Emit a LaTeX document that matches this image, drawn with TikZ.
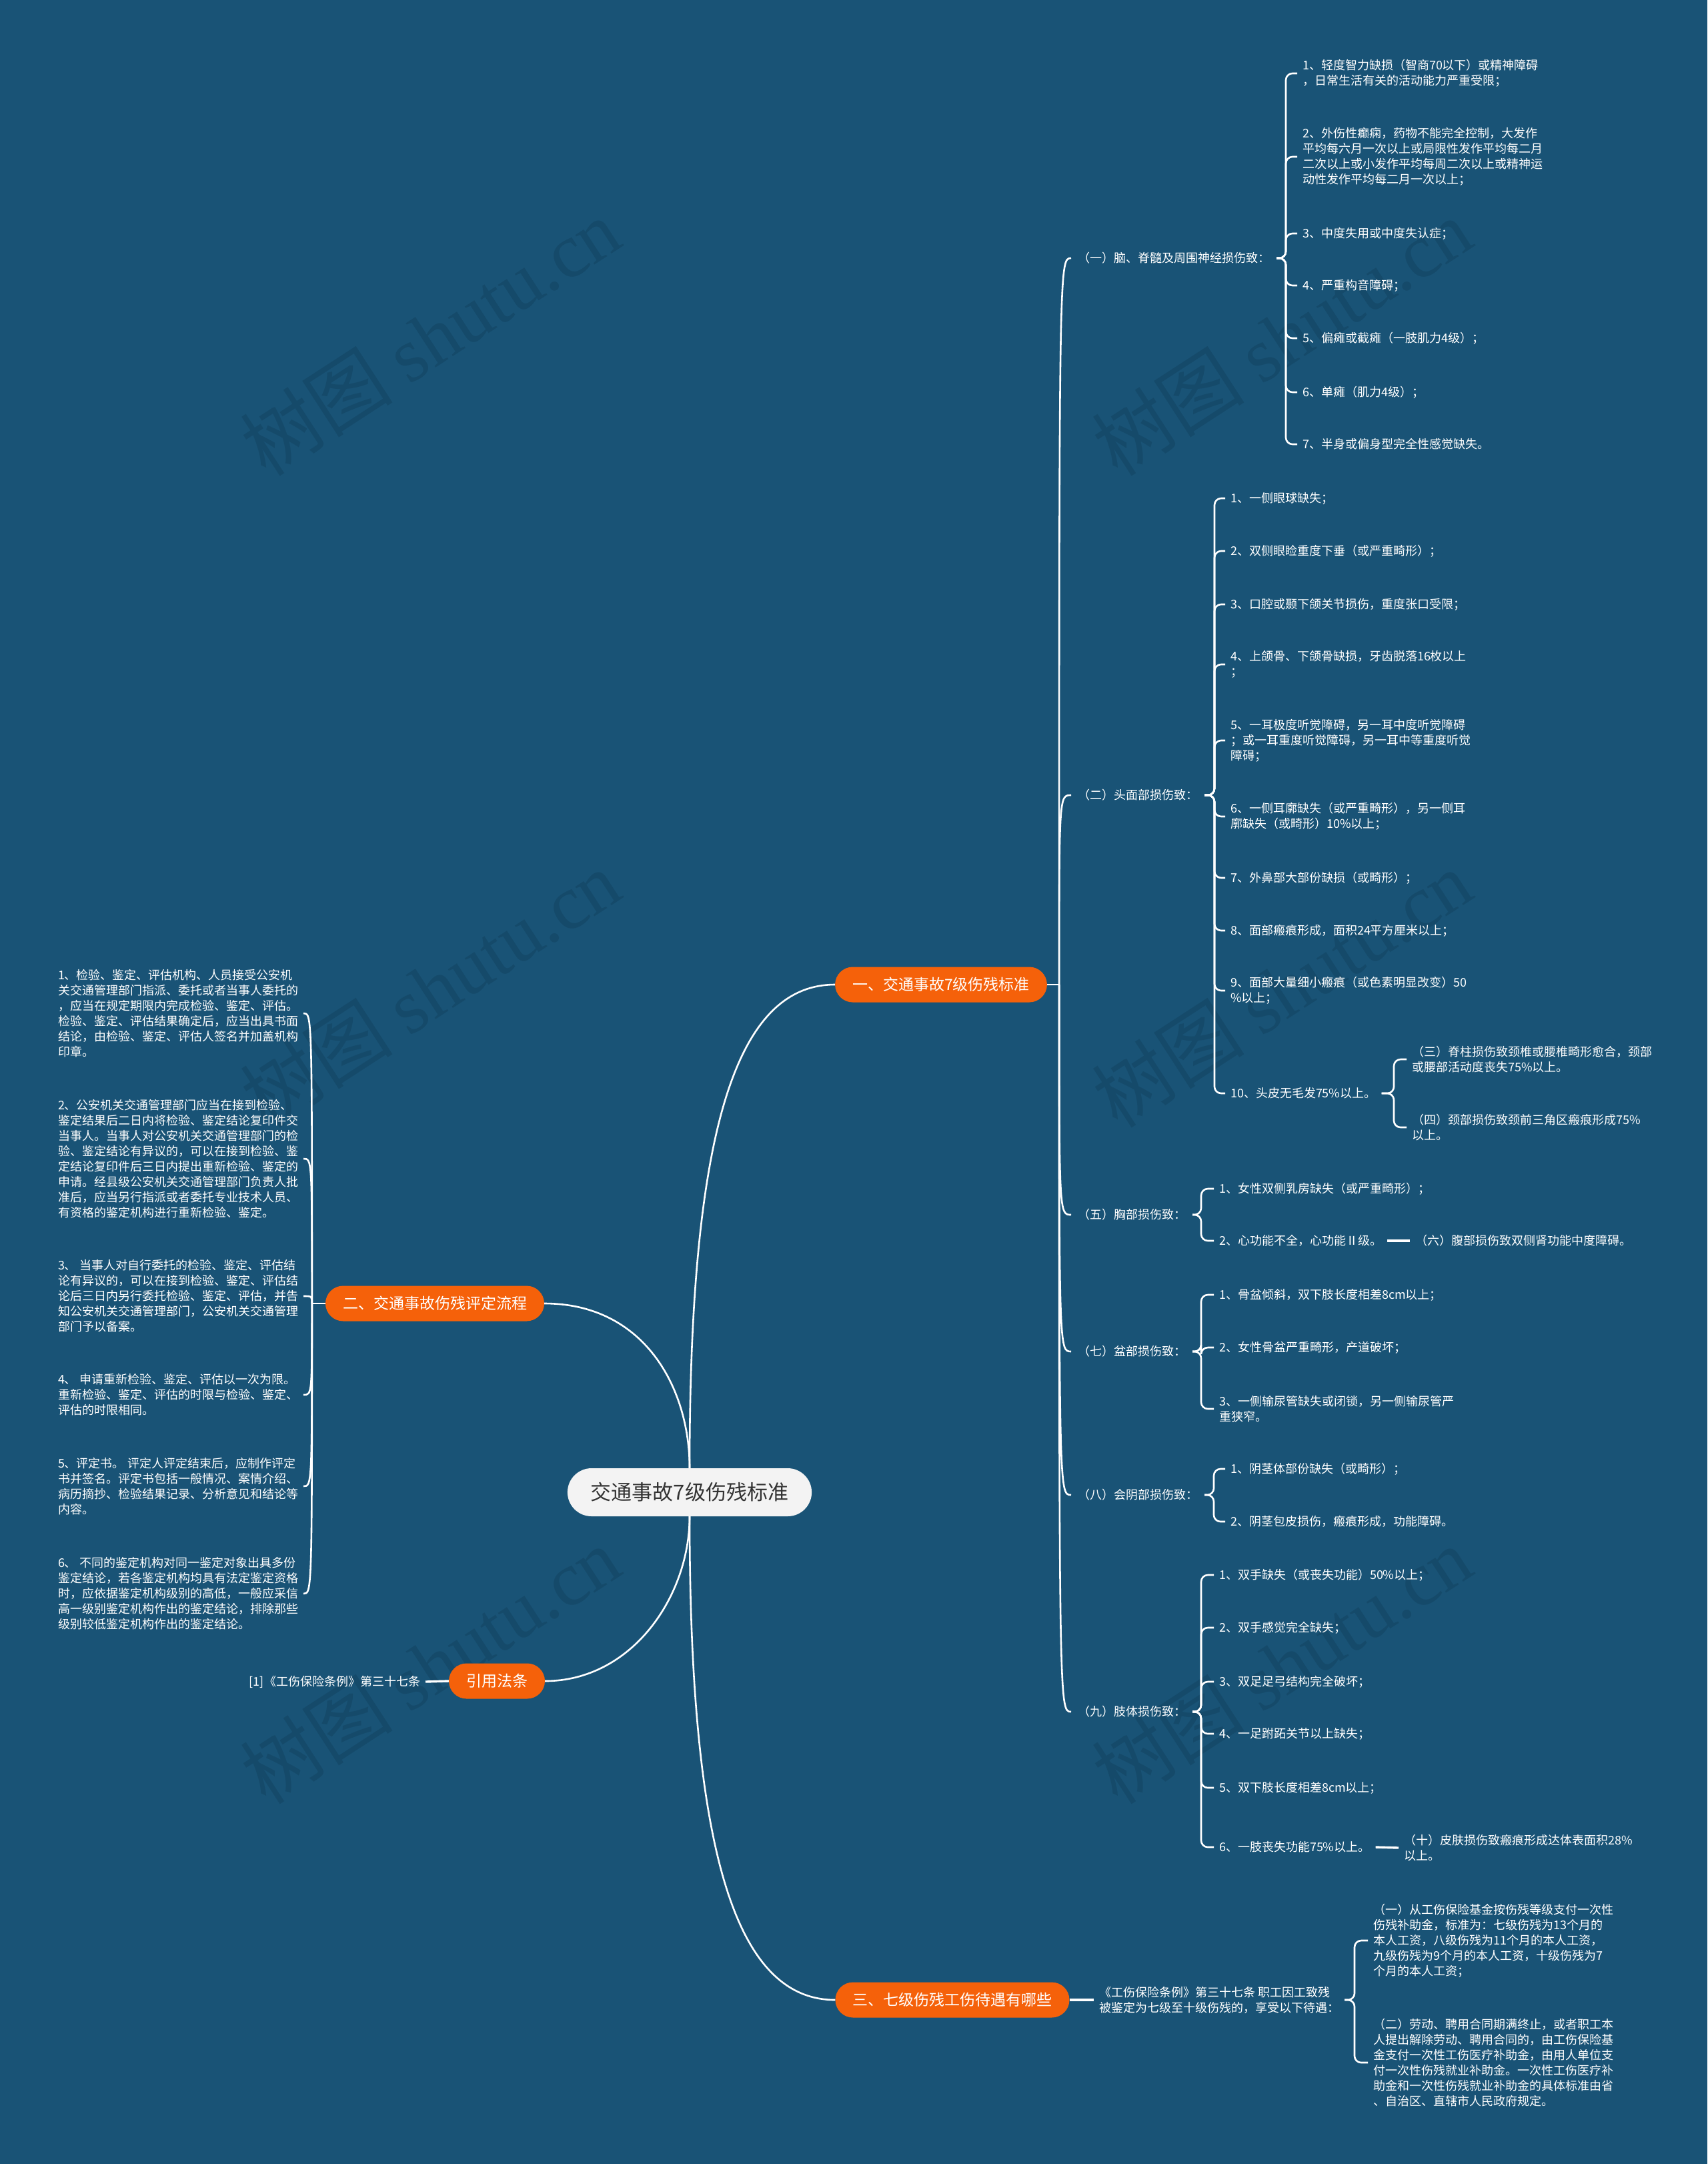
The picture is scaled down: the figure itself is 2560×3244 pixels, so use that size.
\documentclass[tikz,border=0pt]{standalone}
\usepackage{fontspec}
\setmainfont{Noto Sans CJK SC}
\newfontfamily\wmlatin{Liberation Serif}
\definecolor{bgc}{RGB}{25,83,118}
\definecolor{orc}{RGB}{245,97,10}
\definecolor{rootc}{RGB}{243,243,243}
\definecolor{roott}{RGB}{51,51,51}
\definecolor{wmc}{RGB}{21,74,106}
\newcommand\mybrace[3]{\draw[brc] (#1.east) -- (#1.east -| #2) |- (#3.west);}
\newcommand\mycurve[2]{\draw[conn] (#1) .. controls (#1 |- #2) and (#1 |- #2) .. (#2);}
\begin{document}
\begin{tikzpicture}[x=1pt,y=-1pt,
  leaf/.style={text=white,font=\fontsize{18}{23}\selectfont,align=left,inner xsep=0pt,inner ysep=1pt,outer xsep=8pt,anchor=west},
  lbl/.style={leaf,outer xsep=10pt},
  branch/.style={fill=orc,text=white,rounded corners=26.5pt,minimum height=53pt,inner xsep=26pt,inner ysep=0pt,font=\fontsize{23}{28}\selectfont},
  rootn/.style={fill=rootc,text=roott,rounded corners=36pt,minimum height=72pt,inner xsep=35pt,inner ysep=0pt,font=\fontsize{31}{36}\selectfont},
  conn/.style={draw=white,line width=2.6pt},
  brc/.style={conn,rounded corners=10pt},
  wm/.style={text=wmc,font=\fontsize{115}{115}\selectfont,rotate=33,inner sep=0pt}]
\useasboundingbox (0,0) rectangle (2560,3244);
\fill[bgc] (0,0) rectangle (2560,3244);
% watermarks
\node[wm] (w1) at (645,505) {树图 {\wmlatin shutu.cn}};
\node[wm] (w2) at (645,1482) {树图 {\wmlatin shutu.cn}};
\node[wm] (w3) at (645,2496) {树图 {\wmlatin shutu.cn}};
\node[wm] (w4) at (1922,505) {树图 {\wmlatin shutu.cn}};
\node[wm] (w5) at (1922,1482) {树图 {\wmlatin shutu.cn}};
\node[wm] (w6) at (1922,2496) {树图 {\wmlatin shutu.cn}};

% root and main branches
\node[rootn] (root) at (1034,2237) {交通事故7级伤残标准};
\node[branch] (b1) at (1411,1476) {一、交通事故7级伤残标准};
\node[branch] (b2) at (652,1954) {二、交通事故伤残评定流程};
\node[branch] (b3) at (745,2520) {引用法条};
\node[branch] (b4) at (1428,2998) {三、七级伤残工伤待遇有哪些};

\draw[conn] (root.north) .. controls +(0,-500) and +(-150,0) .. (b1.west);
\draw[conn] (b2.east) .. controls +(150,0) and +(0,-120) .. (root.north);
\draw[conn] (b3.east) .. controls +(130,0) and +(0,120) .. (root.south);
\draw[conn] (root.south) .. controls +(0,500) and +(-150,0) .. (b4.west);

% ---------- branch 1 ----------
\node[lbl] (s1) at (1606,387) {（一）脑、脊髓及周围神经损伤致：};
\node[lbl] (s2) at (1606,1192) {（二）头面部损伤致：};
\node[lbl] (s5) at (1606,1821) {（五）胸部损伤致：};
\node[lbl] (s7) at (1606,2026) {（七）盆部损伤致：};
\node[lbl] (s8) at (1606,2241) {（八）会阴部损伤致：};
\node[lbl] (s9) at (1606,2566) {（九）肢体损伤致：};
\draw[conn] (b1.east) -- ++(18,0) coordinate (j1);
\mycurve{j1}{s1.west}
\mycurve{j1}{s2.west}
\mycurve{j1}{s5.west}
\mycurve{j1}{s7.west}
\mycurve{j1}{s8.west}
\mycurve{j1}{s9.west}

% (一)
\node[leaf] (a1) at (1945,110) {1、轻度智力缺损（智商70以下）或精神障碍\\，日常生活有关的活动能力严重受限；};
\node[leaf] (a2) at (1945,235) {2、外伤性癫痫，药物不能完全控制，大发作\\平均每六月一次以上或局限性发作平均每二月\\二次以上或小发作平均每周二次以上或精神运\\动性发作平均每二月一次以上；};
\node[leaf] (a3) at (1945,350) {3、中度失用或中度失认症；};
\node[leaf] (a4) at (1945,428) {4、严重构音障碍；};
\node[leaf] (a5) at (1945,507) {5、偏瘫或截瘫（一肢肌力4级）；};
\node[leaf] (a6) at (1945,588) {6、单瘫（肌力4级）；};
\node[leaf] (a7) at (1945,666) {7、半身或偏身型完全性感觉缺失。};
\coordinate (x1) at (1928,0);
\foreach \c in {a1,a2,a3,a4,a5,a6,a7} {\mybrace{s1}{x1}{\c}}

% (二)
\node[leaf] (c1) at (1837,747) {1、一侧眼球缺失；};
\node[leaf] (c2) at (1837,826) {2、双侧眼睑重度下垂（或严重畸形）；};
\node[leaf] (c3) at (1837,906) {3、口腔或颞下颌关节损伤，重度张口受限；};
\node[leaf] (c4) at (1837,996) {4、上颌骨、下颌骨缺损，牙齿脱落16枚以上\\；};
\node[leaf] (c5) at (1837,1110) {5、一耳极度听觉障碍，另一耳中度听觉障碍\\；或一耳重度听觉障碍，另一耳中等重度听觉\\障碍；};
\node[leaf] (c6) at (1837,1224) {6、一侧耳廓缺失（或严重畸形），另一侧耳\\廓缺失（或畸形）10\%以上；};
\node[leaf] (c7) at (1837,1316) {7、外鼻部大部份缺损（或畸形）；};
\node[leaf] (c8) at (1837,1395) {8、面部瘢痕形成，面积24平方厘米以上；};
\node[leaf] (c9) at (1837,1485) {9、面部大量细小瘢痕（或色素明显改变）50\\\%以上；};
\node[leaf] (c10) at (1837,1639) {10、头皮无毛发75\%以上。};
\coordinate (x2) at (1821,0);
\foreach \c in {c1,c2,c3,c4,c5,c6,c7,c8,c9,c10} {\mybrace{s2}{x2}{\c}}
\node[leaf] (d1) at (2109,1588) {（三）脊柱损伤致颈椎或腰椎畸形愈合，颈部\\或腰部活动度丧失75\%以上。};
\node[leaf] (d2) at (2109,1690) {（四）颈部损伤致颈前三角区瘢痕形成75\%\\以上。};
\coordinate (x3) at (2090,0);
\mybrace{c10}{x3}{d1}
\mybrace{c10}{x3}{d2}

% (五)
\node[leaf] (e1) at (1820,1782) {1、女性双侧乳房缺失（或严重畸形）；};
\node[leaf] (e2) at (1820,1860) {2、心功能不全，心功能Ⅱ级。};
\coordinate (x5) at (1801,0);
\mybrace{s5}{x5}{e1}
\mybrace{s5}{x5}{e2}
\node[leaf] (f1) at (2114,1860) {（六）腹部损伤致双侧肾功能中度障碍。};
\draw[conn,line width=3.4pt] (e2.east) -- (f1.west);

% (七)
\node[leaf] (g1) at (1820,1941) {1、骨盆倾斜，双下肢长度相差8cm以上；};
\node[leaf] (g2) at (1820,2020) {2、女性骨盆严重畸形，产道破坏；};
\node[leaf] (g3) at (1820,2112) {3、一侧输尿管缺失或闭锁，另一侧输尿管严\\重狭窄。};
\coordinate (x7) at (1801,0);
\foreach \c in {g1,g2,g3} {\mybrace{s7}{x7}{\c}}

% (八)
\node[leaf] (h1) at (1837,2202) {1、阴茎体部份缺失（或畸形）；};
\node[leaf] (h2) at (1837,2281) {2、阴茎包皮损伤，瘢痕形成，功能障碍。};
\coordinate (x8) at (1820,0);
\mybrace{s8}{x8}{h1}
\mybrace{s8}{x8}{h2}

% (九)
\node[leaf] (i1) at (1820,2361) {1、双手缺失（或丧失功能）50\%以上；};
\node[leaf] (i2) at (1820,2440) {2、双手感觉完全缺失；};
\node[leaf] (i3) at (1820,2521) {3、双足足弓结构完全破坏；};
\node[leaf] (i4) at (1820,2599) {4、一足跗跖关节以上缺失；};
\node[leaf] (i5) at (1820,2680) {5、双下肢长度相差8cm以上；};
\node[leaf] (i6) at (1820,2769) {6、一肢丧失功能75\%以上。};
\coordinate (x9) at (1801,0);
\foreach \c in {i1,i2,i3,i4,i5,i6} {\mybrace{s9}{x9}{\c}}
\node[leaf] (k1) at (2097,2770) {（十）皮肤损伤致瘢痕形成达体表面积28\%\\以上。};
\draw[conn,line width=3.4pt] (i6.east) -- (k1.west);

% ---------- branch 3 (三) ----------
\node[leaf] (m1) at (1640,2998) {《工伤保险条例》第三十七条 职工因工致残\\被鉴定为七级至十级伤残的，享受以下待遇：};
\draw[conn,line width=3.4pt] (b4.east) -- (m1.west);
\node[leaf] (n1) at (2051,2909) {（一）从工伤保险基金按伤残等级支付一次性\\伤残补助金，标准为：七级伤残为13个月的\\本人工资，八级伤残为11个月的本人工资，\\九级伤残为9个月的本人工资，十级伤残为7\\个月的本人工资；};
\node[leaf] (n2) at (2051,3092) {（二）劳动、聘用合同期满终止，或者职工本\\人提出解除劳动、聘用合同的，由工伤保险基\\金支付一次性工伤医疗补助金，由用人单位支\\付一次性伤残就业补助金。一次性工伤医疗补\\助金和一次性伤残就业补助金的具体标准由省\\、自治区、直辖市人民政府规定。};
\coordinate (x10) at (2031,0);
\mybrace{m1}{x10}{n1}
\mybrace{m1}{x10}{n2}

% ---------- branch 2 (left) ----------
\node[leaf] (p1) at (79,1519) {1、检验、鉴定、评估机构、人员接受公安机\\关交通管理部门指派、委托或者当事人委托的\\，应当在规定期限内完成检验、鉴定、评估。\\检验、鉴定、评估结果确定后，应当出具书面\\结论，由检验、鉴定、评估人签名并加盖机构\\印章。};
\node[leaf] (p2) at (79,1737) {2、公安机关交通管理部门应当在接到检验、\\鉴定结果后二日内将检验、鉴定结论复印件交\\当事人。当事人对公安机关交通管理部门的检\\验、鉴定结论有异议的，可以在接到检验、鉴\\定结论复印件后三日内提出重新检验、鉴定的\\申请。经县级公安机关交通管理部门负责人批\\准后，应当另行指派或者委托专业技术人员、\\有资格的鉴定机构进行重新检验、鉴定。};
\node[leaf] (p3) at (79,1943) {3、 当事人对自行委托的检验、鉴定、评估结\\论有异议的，可以在接到检验、鉴定、评估结\\论后三日内另行委托检验、鉴定、评估，并告\\知公安机关交通管理部门，公安机关交通管理\\部门予以备案。};
\node[leaf] (p4) at (79,2091) {4、 申请重新检验、鉴定、评估以一次为限。\\重新检验、鉴定、评估的时限与检验、鉴定、\\评估的时限相同。};
\node[leaf] (p5) at (79,2228) {5、评定书。 评定人评定结束后，应制作评定\\书并签名。评定书包括一般情况、案情介绍、\\病历摘抄、检验结果记录、分析意见和结论等\\内容。};
\node[leaf] (p6) at (79,2389) {6、 不同的鉴定机构对同一鉴定对象出具多份\\鉴定结论，若各鉴定机构均具有法定鉴定资格\\时，应依据鉴定机构级别的高低，一般应采信\\高一级别鉴定机构作出的鉴定结论，排除那些\\级别较低鉴定机构作出的鉴定结论。};
\draw[conn] (b2.west) -- ++(-20,0) coordinate (j2);
\mycurve{j2}{p1.east}
\mycurve{j2}{p2.east}
\mycurve{j2}{p3.east}
\mycurve{j2}{p4.east}
\mycurve{j2}{p5.east}
\mycurve{j2}{p6.east}

% ---------- 引用法条 ----------
\node[leaf,anchor=east] (q1) at (638,2521) {[1]《工伤保险条例》第三十七条};
\draw[conn,line width=3.4pt] (q1.east) -- (b3.west);
\end{tikzpicture}
\end{document}
